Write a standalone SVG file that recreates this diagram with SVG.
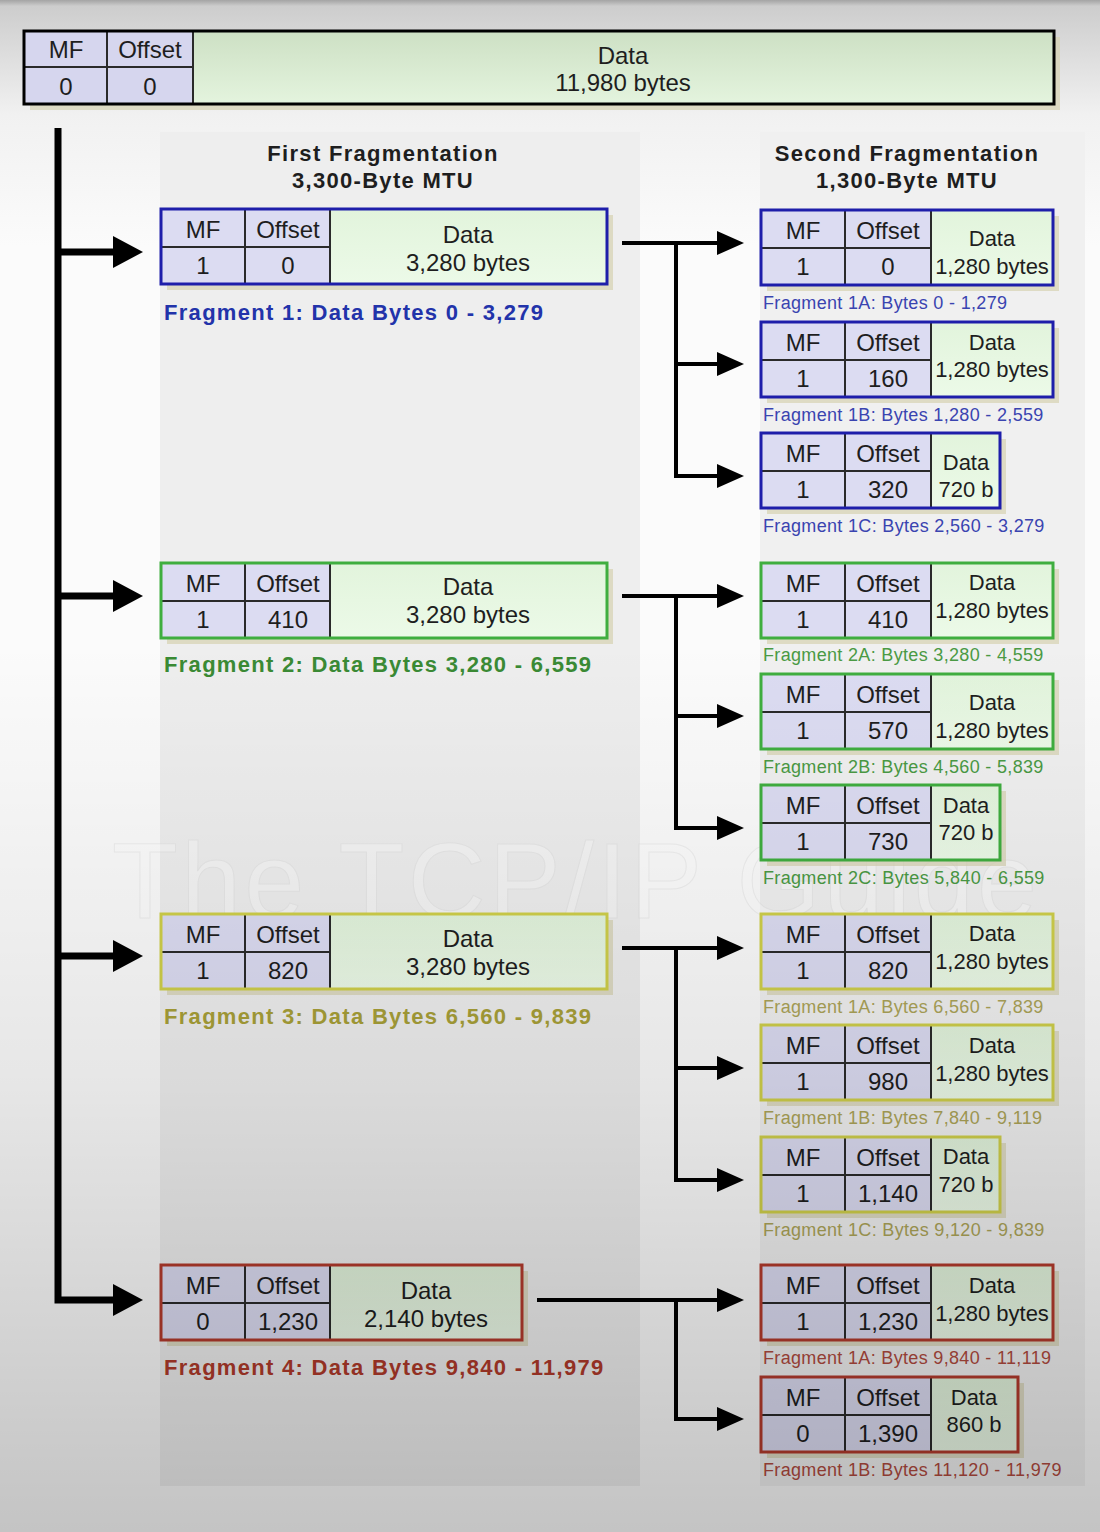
<svg xmlns="http://www.w3.org/2000/svg" width="1100" height="1532" viewBox="0 0 1100 1532">
<defs>
<linearGradient id="bgg" x1="0" y1="0" x2="0" y2="1">
<stop offset="0" stop-color="#a4a4a4"/>
<stop offset="0.004" stop-color="#cdcdcd"/>
<stop offset="0.075" stop-color="#f1f1f1"/>
<stop offset="0.16" stop-color="#fbfbfb"/>
<stop offset="1" stop-color="#fbfbfb"/>
</linearGradient>
<linearGradient id="shade" x1="0" y1="0" x2="0" y2="1">
<stop offset="0" stop-color="#000" stop-opacity="0"/>
<stop offset="0.42" stop-color="#000" stop-opacity="0"/>
<stop offset="0.7" stop-color="#000" stop-opacity="0.08"/>
<stop offset="1" stop-color="#000" stop-opacity="0.22"/>
</linearGradient>
<linearGradient id="gd" x1="0" y1="0" x2="0" y2="1">
<stop offset="0" stop-color="#e2f4dc"/>
<stop offset="1" stop-color="#ecfae8"/>
</linearGradient>
<linearGradient id="gdt" x1="0" y1="0" x2="0" y2="1">
<stop offset="0" stop-color="#cde0c4"/>
<stop offset="1" stop-color="#e4f4de"/>
</linearGradient>
<marker id="ah1" markerUnits="userSpaceOnUse" viewBox="0 0 30 32" refX="2" refY="16" markerWidth="30" markerHeight="32" orient="auto">
<path d="M0,0 L30,16 L0,32 z" fill="#000"/>
</marker>
<marker id="ah2" markerUnits="userSpaceOnUse" viewBox="0 0 27 24" refX="2" refY="12" markerWidth="27" markerHeight="24" orient="auto">
<path d="M0,0 L27,12 L0,24 z" fill="#000"/>
</marker>
</defs>
<style>
.t{font-family:"Liberation Sans",Arial,Helvetica,sans-serif;font-size:24px;fill:#1e1e1e;text-anchor:middle}
.d22{font-size:22px}
.bold{font-weight:bold;font-size:22px;letter-spacing:1.3px}
.st{text-anchor:start}
.sl{font-size:18px;letter-spacing:0.33px;text-anchor:start}
.hdr{fill:#dcdcf2}
.dat{fill:url(#gd)}
.div{stroke:#2a2a2a;stroke-width:2;fill:none}
.sh{fill:#d6d2b0;opacity:0.7}
.out{fill:none;stroke-width:3}
.blue{stroke:#1e1eaa}
.green{stroke:#3fae3f}
.yellow{stroke:#cfcf4a}
.red{stroke:#b33a2c}
.lb{fill:#2233aa}
.lg{fill:#3a8a34}
.ly{fill:#a8a038}
.lr{fill:#b03a2a}
.sb{fill:#3a44b0}
.sg{fill:#4a9a44}
.sy{fill:#aca458}
.sr{fill:#b04a3e}
.conn{stroke:#000;fill:none;stroke-linejoin:miter}
.c1{stroke-width:7;marker-end:url(#ah1)}
.c2{stroke-width:4;marker-end:url(#ah2)}
</style>
<rect x="0" y="0" width="1100" height="1532" fill="url(#bgg)"/>
<rect x="160" y="132" width="480" height="1354" fill="#eeeeee"/>
<rect x="760" y="132" width="325" height="1354" fill="#f0f0f0"/>
<text x="112" y="918" font-family="Liberation Sans, Arial, sans-serif" font-size="108" textLength="925" fill="#ffffff" stroke="#dedede" stroke-width="1" opacity="0.4">The TCP/IP Guide</text>

<g id="titles">
<text class="t bold" x="383" y="161">First Fragmentation</text>
<text class="t bold" x="383" y="188">3,300-Byte MTU</text>
<text class="t bold" x="907" y="161">Second Fragmentation</text>
<text class="t bold" x="907" y="188">1,300-Byte MTU</text>
</g>

<g id="original">
<rect class="sh" x="30" y="37" width="1030" height="73"/>
<rect fill="#d6d6ee" x="24" y="31" width="169" height="73"/>
<rect fill="url(#gdt)" x="193" y="31" width="861" height="73"/>
<path class="div" d="M24,67H193M107,31V104M193,31V104"/>
<rect class="out" stroke="#000" stroke-width="3.5" x="24" y="31" width="1030" height="73"/>
<text class="t" x="66" y="58">MF</text>
<text class="t" x="150" y="58">Offset</text>
<text class="t" x="66" y="95">0</text>
<text class="t" x="150" y="95">0</text>
<text class="t" x="623" y="64">Data</text>
<text class="t" x="623" y="91">11,980 bytes</text>
</g>

<g id="frag1">
<rect class="sh" x="167" y="215" width="446" height="75"/>
<rect class="hdr" x="161" y="209" width="169" height="75"/>
<rect class="dat" x="330" y="209" width="277" height="75"/>
<path class="div" d="M161,247H330M245,209V284M330,209V284"/>
<rect class="out blue" x="161" y="209" width="446" height="75"/>
<text class="t" x="203" y="238">MF</text>
<text class="t" x="288" y="238">Offset</text>
<text class="t" x="203" y="274">1</text>
<text class="t" x="288" y="274">0</text>
<text class="t" x="468" y="243">Data</text>
<text class="t" x="468" y="271">3,280 bytes</text>
<text class="t bold st lb" x="164" y="320">Fragment 1: Data Bytes 0 - 3,279</text>
</g>

<g id="frag2">
<rect class="sh" x="167" y="569" width="446" height="75"/>
<rect class="hdr" x="161" y="563" width="169" height="75"/>
<rect class="dat" x="330" y="563" width="277" height="75"/>
<path class="div" d="M161,601H330M245,563V638M330,563V638"/>
<rect class="out green" x="161" y="563" width="446" height="75"/>
<text class="t" x="203" y="592">MF</text>
<text class="t" x="288" y="592">Offset</text>
<text class="t" x="203" y="628">1</text>
<text class="t" x="288" y="628">410</text>
<text class="t" x="468" y="595">Data</text>
<text class="t" x="468" y="623">3,280 bytes</text>
<text class="t bold st lg" x="164" y="672">Fragment 2: Data Bytes 3,280 - 6,559</text>
</g>

<g id="frag3">
<rect class="sh" x="167" y="920" width="446" height="75"/>
<rect class="hdr" x="161" y="914" width="169" height="75"/>
<rect class="dat" x="330" y="914" width="277" height="75"/>
<path class="div" d="M161,952H330M245,914V989M330,914V989"/>
<rect class="out yellow" x="161" y="914" width="446" height="75"/>
<text class="t" x="203" y="943">MF</text>
<text class="t" x="288" y="943">Offset</text>
<text class="t" x="203" y="979">1</text>
<text class="t" x="288" y="979">820</text>
<text class="t" x="468" y="947">Data</text>
<text class="t" x="468" y="975">3,280 bytes</text>
<text class="t bold st ly" x="164" y="1024">Fragment 3: Data Bytes 6,560 - 9,839</text>
</g>

<g id="frag4">
<rect class="sh" x="167" y="1271" width="361" height="75"/>
<rect class="hdr" x="161" y="1265" width="169" height="75"/>
<rect class="dat" x="330" y="1265" width="192" height="75"/>
<path class="div" d="M161,1303H330M245,1265V1340M330,1265V1340"/>
<rect class="out red" x="161" y="1265" width="361" height="75"/>
<text class="t" x="203" y="1294">MF</text>
<text class="t" x="288" y="1294">Offset</text>
<text class="t" x="203" y="1330">0</text>
<text class="t" x="288" y="1330">1,230</text>
<text class="t" x="426" y="1299">Data</text>
<text class="t" x="426" y="1327">2,140 bytes</text>
<text class="t bold st lr" x="164" y="1375">Fragment 4: Data Bytes 9,840 - 11,979</text>
</g>

<g id="frag1A">
<rect class="sh" x="767" y="216" width="292" height="75"/>
<rect class="hdr" x="761" y="210" width="170" height="75"/>
<rect class="dat" x="931" y="210" width="122" height="75"/>
<path class="div" d="M761,248H931M845,210V285M931,210V285"/>
<rect class="out blue" x="761" y="210" width="292" height="75"/>
<text class="t" x="803" y="239">MF</text>
<text class="t" x="888" y="239">Offset</text>
<text class="t" x="803" y="275">1</text>
<text class="t" x="888" y="275">0</text>
<text class="t d22" x="992" y="246">Data</text>
<text class="t d22" x="992" y="274">1,280 bytes</text>
<text class="t sl sb" x="763" y="309">Fragment 1A: Bytes 0 - 1,279</text>
</g>

<g id="frag1B">
<rect class="sh" x="767" y="328" width="292" height="75"/>
<rect class="hdr" x="761" y="322" width="170" height="75"/>
<rect class="dat" x="931" y="322" width="122" height="75"/>
<path class="div" d="M761,360H931M845,322V397M931,322V397"/>
<rect class="out blue" x="761" y="322" width="292" height="75"/>
<text class="t" x="803" y="351">MF</text>
<text class="t" x="888" y="351">Offset</text>
<text class="t" x="803" y="387">1</text>
<text class="t" x="888" y="387">160</text>
<text class="t d22" x="992" y="350">Data</text>
<text class="t d22" x="992" y="377">1,280 bytes</text>
<text class="t sl sb" x="763" y="421">Fragment 1B: Bytes 1,280 - 2,559</text>
</g>

<g id="frag1C">
<rect class="sh" x="767" y="439" width="239" height="75"/>
<rect class="hdr" x="761" y="433" width="170" height="75"/>
<rect class="dat" x="931" y="433" width="69" height="75"/>
<path class="div" d="M761,471H931M845,433V508M931,433V508"/>
<rect class="out blue" x="761" y="433" width="239" height="75"/>
<text class="t" x="803" y="462">MF</text>
<text class="t" x="888" y="462">Offset</text>
<text class="t" x="803" y="498">1</text>
<text class="t" x="888" y="498">320</text>
<text class="t d22" x="966" y="470">Data</text>
<text class="t d22" x="966" y="497">720 b</text>
<text class="t sl sb" x="763" y="532">Fragment 1C: Bytes 2,560 - 3,279</text>
</g>

<g id="frag2A">
<rect class="sh" x="767" y="569" width="292" height="75"/>
<rect class="hdr" x="761" y="563" width="170" height="75"/>
<rect class="dat" x="931" y="563" width="122" height="75"/>
<path class="div" d="M761,601H931M845,563V638M931,563V638"/>
<rect class="out green" x="761" y="563" width="292" height="75"/>
<text class="t" x="803" y="592">MF</text>
<text class="t" x="888" y="592">Offset</text>
<text class="t" x="803" y="628">1</text>
<text class="t" x="888" y="628">410</text>
<text class="t d22" x="992" y="590">Data</text>
<text class="t d22" x="992" y="618">1,280 bytes</text>
<text class="t sl sg" x="763" y="661">Fragment 2A: Bytes 3,280 - 4,559</text>
</g>

<g id="frag2B">
<rect class="sh" x="767" y="680" width="292" height="75"/>
<rect class="hdr" x="761" y="674" width="170" height="75"/>
<rect class="dat" x="931" y="674" width="122" height="75"/>
<path class="div" d="M761,712H931M845,674V749M931,674V749"/>
<rect class="out green" x="761" y="674" width="292" height="75"/>
<text class="t" x="803" y="703">MF</text>
<text class="t" x="888" y="703">Offset</text>
<text class="t" x="803" y="739">1</text>
<text class="t" x="888" y="739">570</text>
<text class="t d22" x="992" y="710">Data</text>
<text class="t d22" x="992" y="738">1,280 bytes</text>
<text class="t sl sg" x="763" y="773">Fragment 2B: Bytes 4,560 - 5,839</text>
</g>

<g id="frag2C">
<rect class="sh" x="767" y="791" width="239" height="75"/>
<rect class="hdr" x="761" y="785" width="170" height="75"/>
<rect class="dat" x="931" y="785" width="69" height="75"/>
<path class="div" d="M761,823H931M845,785V860M931,785V860"/>
<rect class="out green" x="761" y="785" width="239" height="75"/>
<text class="t" x="803" y="814">MF</text>
<text class="t" x="888" y="814">Offset</text>
<text class="t" x="803" y="850">1</text>
<text class="t" x="888" y="850">730</text>
<text class="t d22" x="966" y="813">Data</text>
<text class="t d22" x="966" y="840">720 b</text>
<text class="t sl sg" x="763" y="884">Fragment 2C: Bytes 5,840 - 6,559</text>
</g>

<g id="frag3A">
<rect class="sh" x="767" y="920" width="292" height="75"/>
<rect class="hdr" x="761" y="914" width="170" height="75"/>
<rect class="dat" x="931" y="914" width="122" height="75"/>
<path class="div" d="M761,952H931M845,914V989M931,914V989"/>
<rect class="out yellow" x="761" y="914" width="292" height="75"/>
<text class="t" x="803" y="943">MF</text>
<text class="t" x="888" y="943">Offset</text>
<text class="t" x="803" y="979">1</text>
<text class="t" x="888" y="979">820</text>
<text class="t d22" x="992" y="941">Data</text>
<text class="t d22" x="992" y="969">1,280 bytes</text>
<text class="t sl sy" x="763" y="1013">Fragment 1A: Bytes 6,560 - 7,839</text>
</g>

<g id="frag3B">
<rect class="sh" x="767" y="1031" width="292" height="75"/>
<rect class="hdr" x="761" y="1025" width="170" height="75"/>
<rect class="dat" x="931" y="1025" width="122" height="75"/>
<path class="div" d="M761,1063H931M845,1025V1100M931,1025V1100"/>
<rect class="out yellow" x="761" y="1025" width="292" height="75"/>
<text class="t" x="803" y="1054">MF</text>
<text class="t" x="888" y="1054">Offset</text>
<text class="t" x="803" y="1090">1</text>
<text class="t" x="888" y="1090">980</text>
<text class="t d22" x="992" y="1053">Data</text>
<text class="t d22" x="992" y="1081">1,280 bytes</text>
<text class="t sl sy" x="763" y="1124">Fragment 1B: Bytes 7,840 - 9,119</text>
</g>

<g id="frag3C">
<rect class="sh" x="767" y="1143" width="239" height="75"/>
<rect class="hdr" x="761" y="1137" width="170" height="75"/>
<rect class="dat" x="931" y="1137" width="69" height="75"/>
<path class="div" d="M761,1175H931M845,1137V1212M931,1137V1212"/>
<rect class="out yellow" x="761" y="1137" width="239" height="75"/>
<text class="t" x="803" y="1166">MF</text>
<text class="t" x="888" y="1166">Offset</text>
<text class="t" x="803" y="1202">1</text>
<text class="t" x="888" y="1202">1,140</text>
<text class="t d22" x="966" y="1164">Data</text>
<text class="t d22" x="966" y="1192">720 b</text>
<text class="t sl sy" x="763" y="1236">Fragment 1C: Bytes 9,120 - 9,839</text>
</g>

<g id="frag4A">
<rect class="sh" x="767" y="1271" width="292" height="75"/>
<rect class="hdr" x="761" y="1265" width="170" height="75"/>
<rect class="dat" x="931" y="1265" width="122" height="75"/>
<path class="div" d="M761,1303H931M845,1265V1340M931,1265V1340"/>
<rect class="out red" x="761" y="1265" width="292" height="75"/>
<text class="t" x="803" y="1294">MF</text>
<text class="t" x="888" y="1294">Offset</text>
<text class="t" x="803" y="1330">1</text>
<text class="t" x="888" y="1330">1,230</text>
<text class="t d22" x="992" y="1293">Data</text>
<text class="t d22" x="992" y="1321">1,280 bytes</text>
<text class="t sl sr" x="763" y="1364">Fragment 1A: Bytes 9,840 - 11,119</text>
</g>

<g id="frag4B">
<rect class="sh" x="767" y="1383" width="257" height="75"/>
<rect class="hdr" x="761" y="1377" width="170" height="75"/>
<rect class="dat" x="931" y="1377" width="87" height="75"/>
<path class="div" d="M761,1415H931M845,1377V1452M931,1377V1452"/>
<rect class="out red" x="761" y="1377" width="257" height="75"/>
<text class="t" x="803" y="1406">MF</text>
<text class="t" x="888" y="1406">Offset</text>
<text class="t" x="803" y="1442">0</text>
<text class="t" x="888" y="1442">1,390</text>
<text class="t d22" x="974" y="1405">Data</text>
<text class="t d22" x="974" y="1432">860 b</text>
<text class="t sl sr" x="763" y="1476">Fragment 1B: Bytes 11,120 - 11,979</text>
</g>

<g id="connectors">
<path class="conn c1" d="M58,128V1300H115"/>
<path class="conn c1" d="M58,252H115"/>
<path class="conn c1" d="M58,596H115"/>
<path class="conn c1" d="M58,956H115"/>
<path class="conn c2" d="M622,243H719"/>
<path class="conn c2" d="M676,243V476H719"/>
<path class="conn c2" d="M676,364H719"/>
<path class="conn c2" d="M622,596H719"/>
<path class="conn c2" d="M676,596V828H719"/>
<path class="conn c2" d="M676,716H719"/>
<path class="conn c2" d="M622,948H719"/>
<path class="conn c2" d="M676,948V1180H719"/>
<path class="conn c2" d="M676,1068H719"/>
<path class="conn c2" d="M537,1300H719"/>
<path class="conn c2" d="M676,1300V1419H719"/>
</g>

<rect x="0" y="0" width="1100" height="1532" fill="url(#shade)" pointer-events="none"/>
</svg>
